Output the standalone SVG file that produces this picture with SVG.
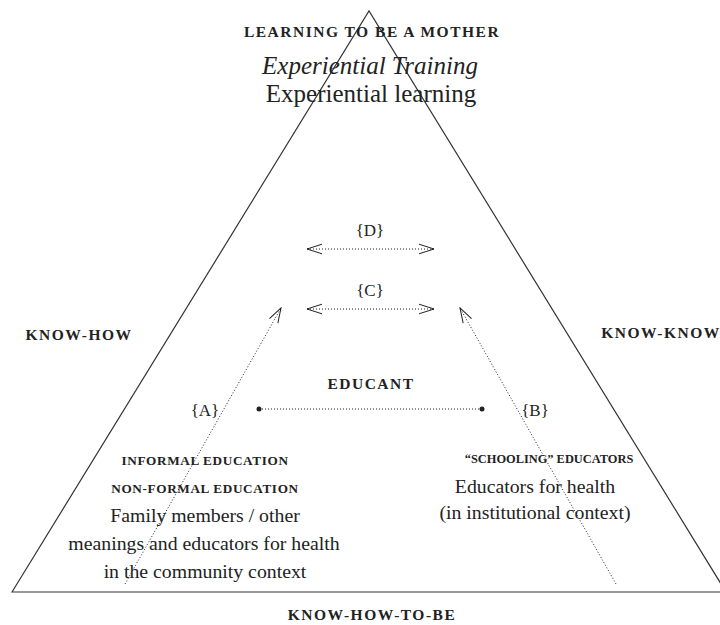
<svg xmlns="http://www.w3.org/2000/svg" width="720" height="625" viewBox="0 0 720 625">
<defs>
<marker id="vh" viewBox="0 0 16 12" refX="15" refY="6" markerWidth="16" markerHeight="12" markerUnits="userSpaceOnUse" orient="auto-start-reverse">
<path d="M0,1.2 L15,6 L0,10.8" fill="none" stroke="#222" stroke-width="1"/>
</marker>
<marker id="dot" viewBox="0 0 6 6" refX="3" refY="3" markerWidth="6" markerHeight="6" markerUnits="userSpaceOnUse">
<circle cx="3" cy="3" r="2.5" fill="#222"/>
</marker>
</defs>
<style>
text{font-family:"Liberation Serif","Times New Roman",serif;fill:#222;text-anchor:middle}
.sc{font-size:15.5px;font-weight:bold;letter-spacing:1.5px}
.sc2{font-size:13.2px;font-weight:bold;letter-spacing:0.65px}
.body{font-size:19.8px}
.lab{font-size:17px}
.dots{fill:none;stroke:#222;stroke-width:1;stroke-dasharray:1 2}
</style>
<rect width="720" height="625" fill="#fff"/>
<g id="triangle">
<path d="M12,592 L369,11 L726,592 Z" fill="none" stroke="#333" stroke-width="1.2"/>
</g>
<g id="connectors">
<line class="dots" x1="125" y1="584" x2="281" y2="308" marker-end="url(#vh)"/>
<line class="dots" x1="616" y1="584" x2="460" y2="308" marker-end="url(#vh)"/>
<line class="dots" x1="307" y1="249" x2="434" y2="249" marker-start="url(#vh)" marker-end="url(#vh)"/>
<line class="dots" x1="307" y1="309" x2="434" y2="309" marker-start="url(#vh)" marker-end="url(#vh)"/>
<line class="dots" x1="259" y1="409" x2="482" y2="409" marker-start="url(#dot)" marker-end="url(#dot)"/>
</g>
<g id="top">
<text class="sc" x="372" y="37">LEARNING TO BE A MOTHER</text>
<text x="370" y="74" font-size="25" font-style="italic">Experiential Training</text>
<text x="371" y="102" font-size="25">Experiential  learning</text>
</g>
<g id="D"><text class="lab" x="370" y="236">{D}</text></g>
<g id="C"><text class="lab" x="370" y="296">{C}</text></g>
<g id="knowhow"><text class="sc" x="79" y="340">KNOW-HOW</text></g>
<g id="knowknow"><text class="sc" x="661" y="338">KNOW-KNOW</text></g>
<g id="educant"><text class="sc" x="371" y="389">EDUCANT</text></g>
<g id="A"><text class="lab" x="205" y="416">{A}</text></g>
<g id="B"><text class="lab" x="535" y="416">{B}</text></g>
<g id="informal">
<text class="sc2" x="205" y="465">INFORMAL EDUCATION</text>
<text class="sc2" x="205" y="493">NON-FORMAL EDUCATION</text>
<text class="body" x="205" y="522">Family members / other</text>
<text class="body" x="204" y="550">meanings and educators for health</text>
<text class="body" x="205" y="578">in the community context</text>
</g>
<g id="schooling">
<text class="sc2" x="549" y="463" style="font-size:12.4px;letter-spacing:0px">“SCHOOLING” EDUCATORS</text>
<text class="body" x="535" y="493">Educators for health</text>
<text class="body" x="535" y="519">(in institutional context)</text>
</g>
<g id="knowhowtobe"><text class="sc" x="372" y="620">KNOW-HOW-TO-BE</text></g>
</svg>
